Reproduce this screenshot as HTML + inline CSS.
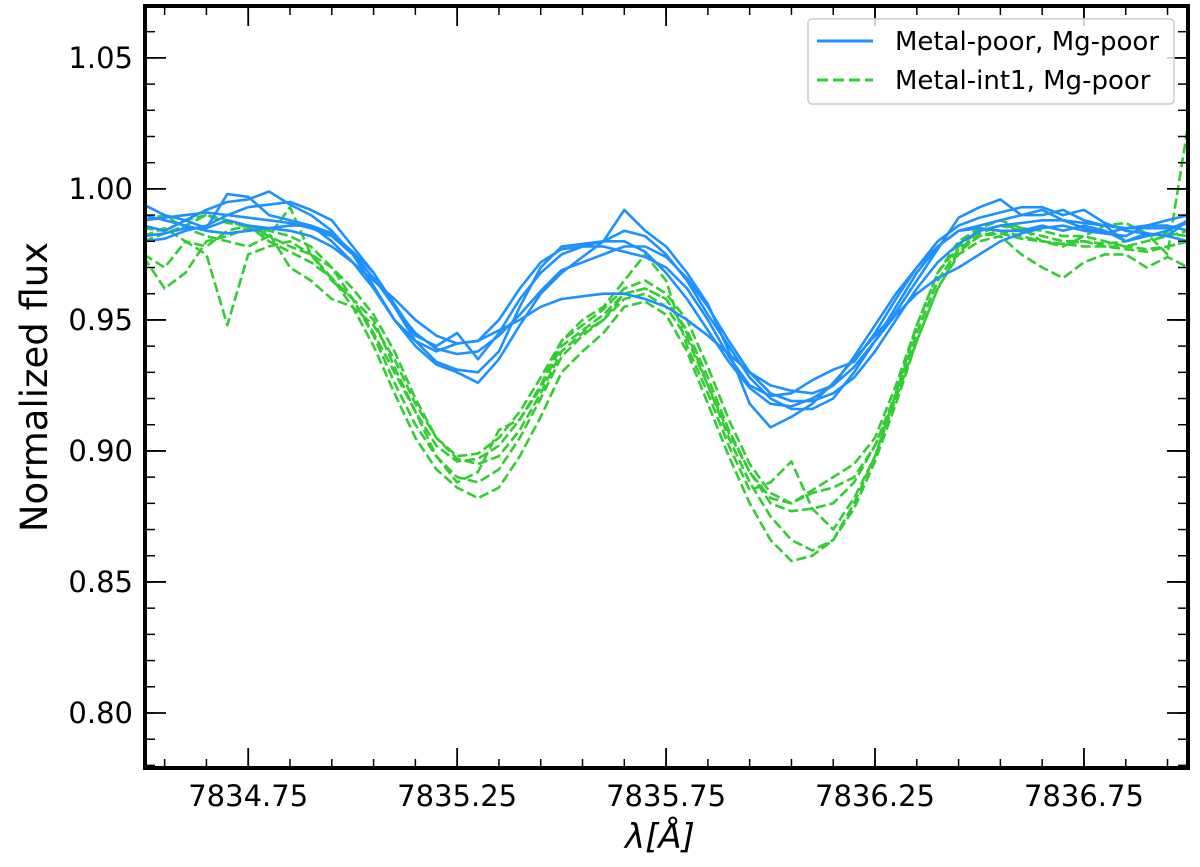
<!DOCTYPE html>
<html><head><meta charset="utf-8"><style>
body{margin:0;background:#fff;}
svg{display:block;font-family:"DejaVu Sans","Liberation Sans",sans-serif;}
</style></head><body>
<svg id="chart" width="1200" height="867" viewBox="0 0 1200 867" xmlns="http://www.w3.org/2000/svg">
<defs><clipPath id="plotclip"><rect x="145" y="6" width="1043" height="762"/></clipPath></defs>
<g id="series" clip-path="url(#plotclip)"></g>
<g id="axes"></g>
<g id="legend">
<rect x="808" y="19" width="366" height="85" rx="4" fill="#fff" fill-opacity="0.8" stroke="#ccc" stroke-width="1.5"/>
<line x1="817" y1="41" x2="873" y2="41" stroke="#1e90ff" stroke-width="3"/>
<text x="895" y="50" font-size="26" fill="#000">Metal-poor, Mg-poor</text>
<line x1="817" y1="80" x2="873" y2="80" stroke="#32cd32" stroke-width="3" stroke-dasharray="11,5"/>
<text x="895" y="89" font-size="26" fill="#000">Metal-int1, Mg-poor</text>
</g>
<text x="660" y="848" font-size="34" text-anchor="middle" font-style="italic">λ[Å]</text>
<text transform="translate(47,387) rotate(-90)" font-size="37" text-anchor="middle">Normalized flux</text>
</svg>
<script>
const wavelengthStart = 7834.5;
const wavelengthStep = 0.05;
const xTicks = [7834.75, 7835.25, 7835.75, 7836.25, 7836.75];
const xTickLabels = ["7834.75", "7835.25", "7835.75", "7836.25", "7836.75"];
const yTicks = [0.80, 0.85, 0.90, 0.95, 1.00, 1.05];
const yTickLabels = ["0.80", "0.85", "0.90", "0.95", "1.00", "1.05"];

const blue1 = [.988,.989,.990,.991,.990,.989,.988,.987,.985,.982,.975,.966,.955,.945,.939,.937,.938,.944,.952,.961,.969,.972,.975,.978,.978,.974,.966,.955,.942,.930,.922,.919,.919,.922,.928,.938,.950,.962,.972,.979,.984,.986,.987,.988,.988,.987,.986,.985,.985,.985,.987];
const blue2 = [.994,.990,.988,.985,.998,.997,.990,.988,.986,.980,.972,.962,.950,.940,.933,.930,.926,.935,.948,.960,.968,.974,.980,.992,.984,.978,.968,.956,.938,.918,.909,.913,.918,.926,.935,.944,.953,.965,.977,.989,.993,.996,.990,.992,.988,.985,.983,.982,.986,.988,.990];
const blue3 = [.982,.983,.985,.985,.988,.986,.985,.984,.982,.978,.972,.965,.958,.950,.944,.941,.942,.946,.950,.955,.958,.959,.960,.960,.958,.955,.950,.944,.937,.930,.925,.923,.922,.925,.932,.942,.952,.960,.966,.970,.975,.980,.983,.985,.986,.984,.983,.985,.986,.986,.984];
const blue4 = [.986,.984,.988,.992,.995,.996,.999,.994,.990,.984,.975,.963,.950,.942,.938,.941,.942,.950,.962,.972,.977,.978,.978,.976,.974,.970,.962,.950,.936,.925,.921,.922,.927,.931,.934,.945,.958,.970,.980,.986,.989,.991,.993,.993,.990,.992,.987,.984,.983,.982,.988];
const blue5 = [.980,.981,.984,.986,.990,.993,.994,.995,.992,.988,.978,.968,.955,.942,.934,.931,.930,.938,.955,.970,.978,.979,.980,.980,.976,.968,.958,.946,.934,.924,.918,.917,.920,.925,.936,.948,.960,.970,.978,.984,.986,.988,.990,.990,.992,.988,.986,.980,.982,.984,.988];
const blue6 = [.990,.988,.986,.984,.983,.984,.985,.986,.986,.983,.976,.968,.956,.944,.940,.945,.935,.945,.958,.968,.975,.978,.980,.984,.982,.975,.965,.952,.940,.928,.920,.916,.916,.920,.930,.942,.955,.968,.978,.984,.985,.984,.984,.986,.984,.986,.984,.980,.983,.982,.980];

const green1 = [.985,.984,.988,.990,.987,.986,.984,.982,.978,.970,.958,.944,.926,.910,.898,.890,.888,.893,.905,.920,.936,.944,.950,.960,.962,.958,.945,.925,.905,.888,.875,.866,.862,.866,.878,.896,.918,.942,.962,.976,.982,.984,.982,.980,.979,.978,.978,.978,.977,.978,.980];
const green2 = [.975,.970,.980,.975,.948,.975,.978,.980,.975,.966,.955,.940,.922,.905,.893,.886,.882,.886,.898,.913,.930,.938,.945,.955,.957,.952,.938,.918,.898,.880,.866,.858,.860,.866,.880,.898,.920,.945,.965,.977,.982,.983,.981,.980,.979,.980,.978,.977,.976,.978,.980];
const green3 = [.974,.962,.968,.980,.982,.985,.983,.970,.965,.958,.955,.948,.935,.918,.905,.897,.895,.898,.908,.922,.938,.945,.950,.958,.960,.955,.943,.925,.907,.892,.882,.880,.884,.886,.890,.902,.920,.942,.962,.975,.980,.982,.975,.970,.966,.972,.975,.975,.970,.974,.970];
const green4 = [.988,.990,.985,.982,.980,.978,.982,.993,.975,.965,.958,.950,.932,.915,.898,.888,.892,.908,.912,.925,.942,.950,.955,.965,.975,.965,.940,.922,.902,.885,.888,.896,.878,.870,.882,.898,.922,.948,.968,.980,.985,.988,.985,.980,.978,.982,.986,.987,.983,.975,1.025];
const green5 = [.982,.985,.980,.978,.984,.986,.980,.976,.972,.966,.958,.945,.930,.915,.902,.896,.897,.902,.912,.924,.940,.946,.952,.960,.962,.958,.946,.928,.908,.892,.880,.877,.878,.880,.888,.902,.922,.945,.965,.977,.983,.986,.984,.982,.980,.980,.979,.980,.982,.983,.982];
const green6 = [.980,.983,.986,.990,.988,.985,.982,.978,.975,.970,.962,.952,.938,.920,.905,.898,.899,.905,.915,.928,.942,.948,.954,.962,.965,.960,.950,.932,.912,.895,.884,.880,.885,.890,.895,.905,.925,.948,.968,.978,.984,.986,.985,.984,.982,.982,.980,.978,.980,.982,.984];

const blueSeries = [blue1, blue2, blue3, blue4, blue5, blue6];
const greenSeries = [green1, green2, green3, green4, green5, green6];

const X0 = 145, X1 = 1188, Y0 = 768, Y1 = 6;
const xMin = 7834.503, xMax = 7836.999, yMin = 0.779, yMax = 1.0698;
function xs(v){ return X0 + (v - xMin) / (xMax - xMin) * (X1 - X0); }
function ys(v){ return Y0 - (v - yMin) / (yMax - yMin) * (Y0 - Y1); }

const NS = "http://www.w3.org/2000/svg";
function mk(tag, attrs, parent){
  const el = document.createElementNS(NS, tag);
  for (const k in attrs) el.setAttribute(k, attrs[k]);
  parent.appendChild(el);
  return el;
}
const gS = document.getElementById('series');
const gA = document.getElementById('axes');

function drawSeries(arr, color, dashed, name){
  const pts = arr.map((v, i) => xs(wavelengthStart + i * wavelengthStep).toFixed(1) + ',' + ys(v).toFixed(1)).join(' ');
  const attrs = {points: pts, fill: 'none', stroke: color, 'stroke-width': 2.6, 'stroke-linejoin': 'round'};
  if (dashed) attrs['stroke-dasharray'] = '10,4';
  const pl = mk('polyline', attrs, gS);
  
  
}
greenSeries.forEach((s, i) => drawSeries(s, '#32cd32', true, 'metal-int1-spectrum-' + (i + 1)));
blueSeries.forEach((s, i) => drawSeries(s, '#1e90ff', false, 'metal-poor-spectrum-' + (i + 1)));

for (let k = 0; k <= 25; k++) {
  const v = 7834.55 + k * 0.1;
  if (v > xMax) break;
  const x = xs(v);
  mk('line', {x1: x, y1: Y0, x2: x, y2: Y0 - 9, stroke: '#000', 'stroke-width': 1.5}, gA);
  mk('line', {x1: x, y1: Y1, x2: x, y2: Y1 + 9, stroke: '#000', 'stroke-width': 1.5}, gA);
}
for (let k = 0; k <= 30; k++) {
  const v = 0.78 + k * 0.01;
  if (v > yMax) break;
  const y = ys(v);
  mk('line', {x1: X0, y1: y, x2: X0 + 10, y2: y, stroke: '#000', 'stroke-width': 1.5}, gA);
  mk('line', {x1: X1, y1: y, x2: X1 - 10, y2: y, stroke: '#000', 'stroke-width': 1.5}, gA);
}
xTicks.forEach((v, i) => {
  const x = xs(v);
  mk('line', {x1: x, y1: Y0, x2: x, y2: Y0 - 20, stroke: '#000', 'stroke-width': 1.8}, gA);
  mk('line', {x1: x, y1: Y1, x2: x, y2: Y1 + 20, stroke: '#000', 'stroke-width': 1.8}, gA);
  const t = mk('text', {x: x, y: 806, 'font-size': 29, 'text-anchor': 'middle'}, gA);
  t.textContent = xTickLabels[i];
  
  
});
yTicks.forEach((v, i) => {
  const y = ys(v);
  mk('line', {x1: X0, y1: y, x2: X0 + 21, y2: y, stroke: '#000', 'stroke-width': 1.8}, gA);
  mk('line', {x1: X1, y1: y, x2: X1 - 21, y2: y, stroke: '#000', 'stroke-width': 1.8}, gA);
  const t = mk('text', {x: 133, y: y + 10, 'font-size': 29, 'text-anchor': 'end'}, gA);
  t.textContent = yTickLabels[i];
  
  
});
const frame = mk('rect', {x: X0, y: Y1, width: X1 - X0, height: Y0 - Y1, fill: 'none', stroke: '#000', 'stroke-width': 4}, gA);


</script>
</body></html>
